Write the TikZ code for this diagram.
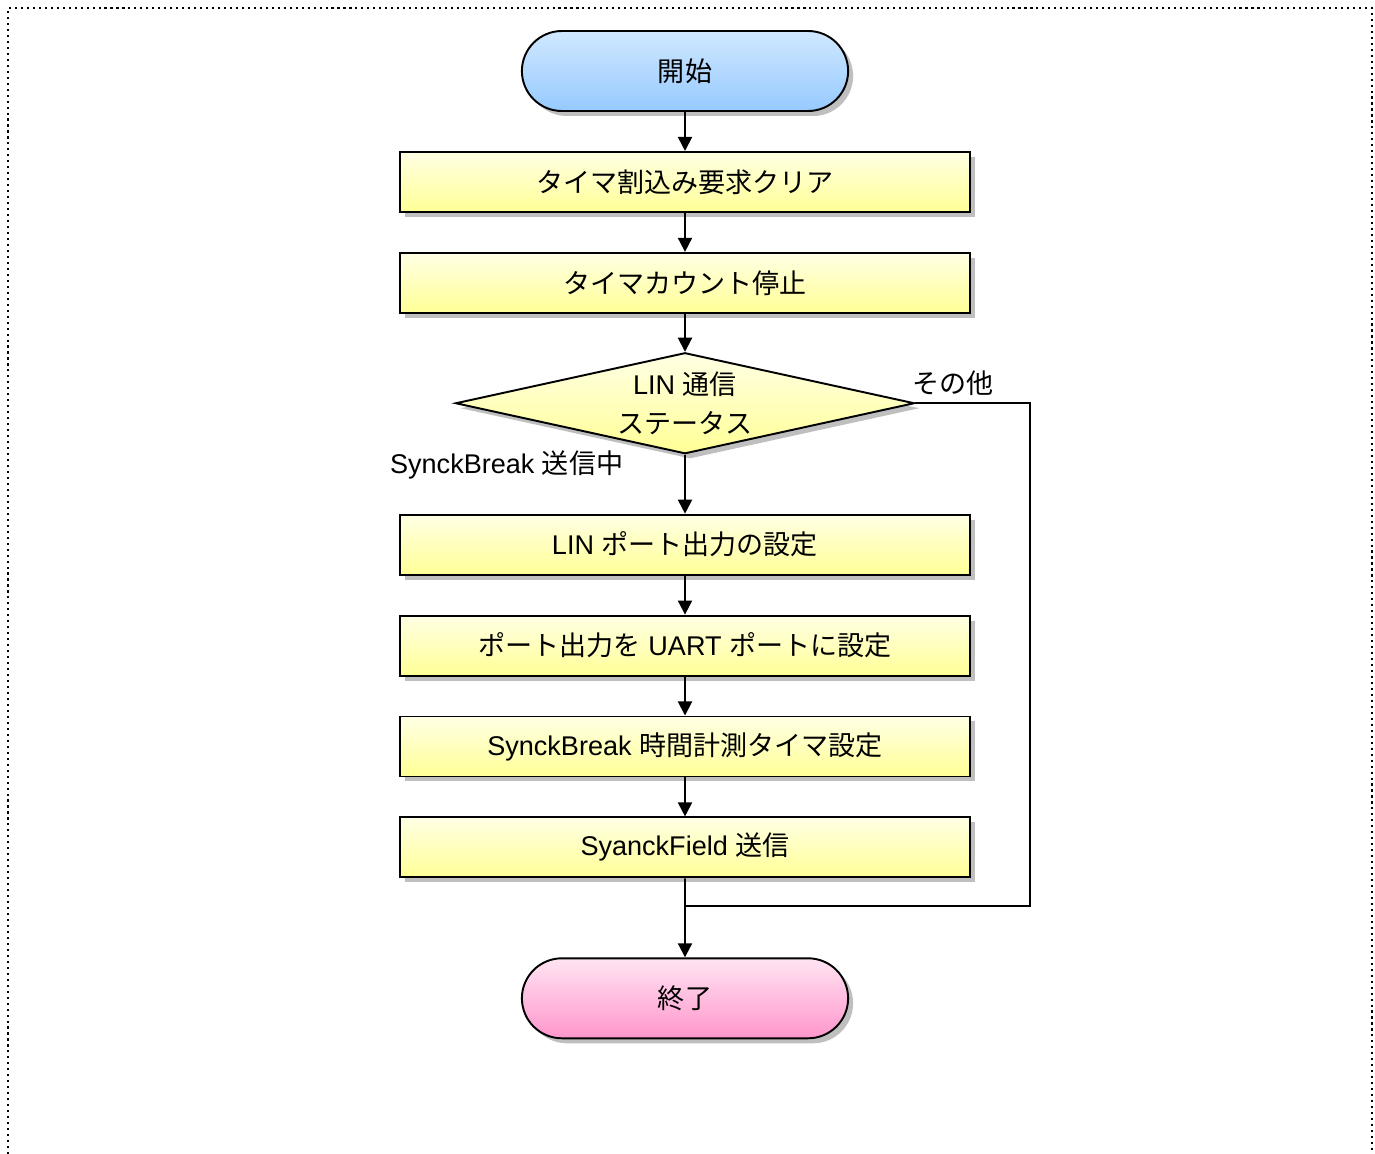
\documentclass[tikz,border=0pt]{standalone}
\usepackage{fontspec}
\setmainfont{Liberation Sans}
\newfontfamily\jp{Noto Sans CJK JP}
\usepackage{tikz}
\usetikzlibrary{positioning, arrows.meta, shapes.geometric, shapes.misc, shadows}
\definecolor{termBlueTop}{RGB}{208,232,255}
\definecolor{termBlueBot}{RGB}{150,202,255}
\definecolor{procYellowTop}{RGB}{255,255,228}
\definecolor{procYellowBot}{RGB}{255,255,150}
\definecolor{termPinkTop}{RGB}{255,228,242}
\definecolor{termPinkBot}{RGB}{255,150,204}

\begin{document}
\begin{tikzpicture}[
    x=0.02cm, y=-0.02cm,
    node distance=0.78cm,
    boxshadow/.style={drop shadow={shadow xshift=0.1cm, shadow yshift=-0.1cm, fill=black!25, opacity=1}},
    terminal/.style={rounded rectangle, draw=black, line width=1.1pt, minimum width=6.76cm, minimum height=1.6cm, font=\fontsize{15.4}{18}\selectfont, boxshadow},
    process/.style={rectangle, draw=black, line width=1.1pt, minimum width=11.42cm, minimum height=1.2cm, top color=procYellowTop, bottom color=procYellowBot, font=\fontsize{15.4}{18}\selectfont, boxshadow},
    decision/.style={diamond, draw=black, line width=1.1pt, minimum width=9.18cm, minimum height=2.02cm, shape aspect=4.5, inner sep=0pt, align=center, top color=procYellowTop, bottom color=procYellowBot, font=\fontsize{15.4}{22}\selectfont, boxshadow},
    arrow/.style={-{Triangle[length=8pt, width=8pt]}, line width=1.1pt},
    line/.style={line width=1.1pt},
    branch/.style={font=\fontsize{15.4}{18}\selectfont, inner sep=2pt}
]
\useasboundingbox (0,0) rectangle (1375,1153);
% Frame
\draw[line width=1pt, dash pattern=on 1.2pt off 2.2pt] (8,1160) -- (8,8) -- (1372,8) -- (1372,1160);

% Nodes
\node[terminal, top color=termBlueTop, bottom color=termBlueBot] (start) at (685,71) {\jp 開始};
\node[process, below=of start] (clrirq) {\jp タイマ割込み要求クリア};
\node[process, below=of clrirq] (stoptmr) {\jp タイマカウント停止};
\node[decision, below=0.76cm of stoptmr] (status) {LIN {\jp 通信}\\{\jp ステータス}};
\node[process, below=1.18cm of status] (linport) {LIN {\jp ポート出力の設定}};
\node[process, below=of linport] (uartport) {{\jp ポート出力を} UART {\jp ポートに設定}};
\node[process, below=of uartport] (brktmr) {SynckBreak {\jp 時間計測タイマ設定}};
\node[process, below=of brktmr] (sendfld) {SyanckField {\jp 送信}};
\node[terminal, top color=termPinkTop, bottom color=termPinkBot, below=1.58cm of sendfld] (finish) {\jp 終了};
\coordinate[below=0.56cm of sendfld] (join);

% Branch labels
\node[branch, anchor=south west, xshift=-4pt, yshift=2pt] at (status.east) {\jp その他};
\node[branch, anchor=east, xshift=-1.16cm, yshift=-0.2cm] at (status.south) {SynckBreak {\jp 送信中}};

% Arrows
\draw[arrow] (start) -- (clrirq);
\draw[arrow] (clrirq) -- (stoptmr);
\draw[arrow] (stoptmr) -- (status);
\draw[arrow] (status) -- (linport);
\draw[arrow] (linport) -- (uartport);
\draw[arrow] (uartport) -- (brktmr);
\draw[arrow] (brktmr) -- (sendfld);
\draw[arrow] (sendfld) -- (finish);
\draw[line] (status.east) -- ++(2.3cm,0) |- (join);
\end{tikzpicture}
\end{document}
